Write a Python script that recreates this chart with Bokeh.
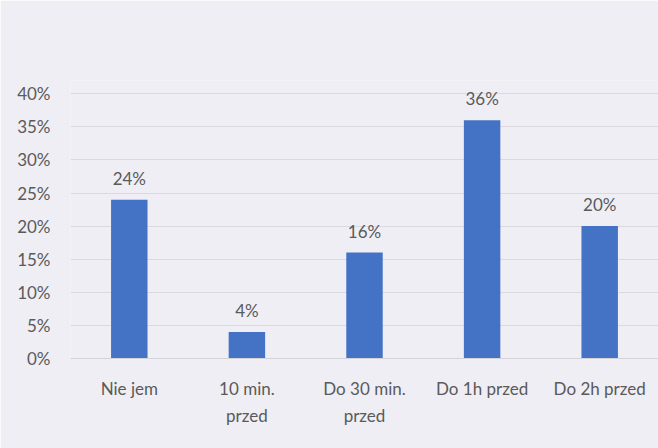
from bokeh.plotting import figure
from bokeh.models import ColumnDataSource, FactorRange, NumeralTickFormatter, Range1d, LabelSet
from bokeh.core.properties import value
from bokeh.embed import file_html
from bokeh.resources import INLINE

# Share of respondents by time of eating before training
categories = ["Nie jem", "10 min.\nprzed", "Do 30 min.\nprzed", "Do 1h przed", "Do 2h przed"]
shares = [0.24, 0.04, 0.16, 0.36, 0.20]
share_labels = ["24%", "4%", "16%", "36%", "20%"]
y_ticks = [0, 0.05, 0.10, 0.15, 0.20, 0.25, 0.30, 0.35, 0.40]

FONT = "Lato"
TEXT = "#5a5a5a"
BG = "#efeef4"

source = ColumnDataSource(dict(cat=categories, val=shares, lab=share_labels))

# a little headroom above 40% so the tallest bar's label is not cut off
p = figure(
    width=658, height=448,
    x_range=FactorRange(*categories, range_padding=0),
    y_range=Range1d(0, 0.42),
    output_backend="svg", toolbar_location=None,
    min_border_left=70, min_border_right=0, min_border_top=80, min_border_bottom=90,
)
p.background_fill_color = BG
p.border_fill_color = BG
p.outline_line_color = None

p.vbar(x="cat", top="val", width=0.31, source=source, color="#4472C4", line_color=None)

labels = LabelSet(x="cat", y="val", text="lab", source=source, y_offset=11,
                  text_align="center", text_baseline="bottom",
                  text_font=value(FONT), text_font_size="17px", text_color=TEXT)
p.add_layout(labels)

p.yaxis.formatter = NumeralTickFormatter(format="0%")
p.yaxis.ticker = y_ticks
p.yaxis.axis_line_color = None
p.yaxis.major_tick_line_color = None
p.yaxis.minor_tick_line_color = None
p.yaxis.major_label_standoff = 14
p.yaxis.major_label_text_font = FONT
p.yaxis.major_label_text_font_size = "17px"
p.yaxis.major_label_text_color = TEXT

p.xaxis.axis_line_color = "#d4d4d8"
p.xaxis.major_tick_line_color = None
p.xaxis.minor_tick_line_color = None
p.xaxis.major_label_standoff = 13
p.xaxis.major_label_text_font = FONT
p.xaxis.major_label_text_font_size = "17px"
p.xaxis.major_label_text_color = TEXT
p.xaxis.major_label_text_line_height = 1.3

p.xgrid.grid_line_color = None
p.ygrid.grid_line_color = "#d9d9de"
p.ygrid.grid_line_width = 1

open("out.html", "w").write(file_html(p, INLINE))
